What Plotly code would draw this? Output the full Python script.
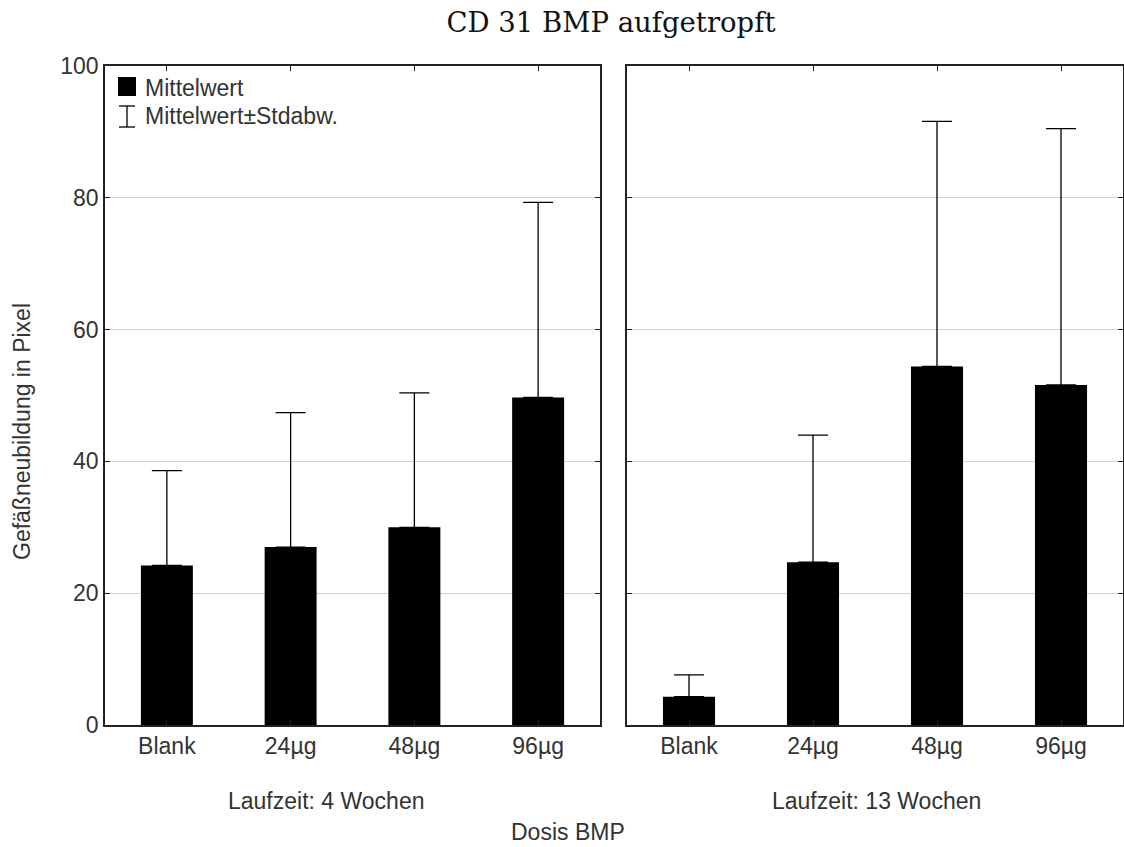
import plotly.graph_objects as go

categories = ["Blank", "24µg", "48µg", "96µg"]
mean_4w = [24.2, 27.0, 30.0, 49.7]
sd_4w = [14.4, 20.4, 20.4, 29.6]
mean_13w = [4.3, 24.7, 54.4, 51.6]
sd_13w = [3.3, 19.3, 37.2, 38.9]
panel_labels = ["Laufzeit: 4 Wochen", "Laufzeit: 13 Wochen"]
y_ticks = [0, 20, 40, 60, 80, 100]

W, H = 1124, 847
FONT = "Liberation Sans, Arial, sans-serif"
TXT = "#333333"
FS = 23

fig = go.Figure()
for i, (m, s) in enumerate([(mean_4w, sd_4w), (mean_13w, sd_13w)]):
    ax = "" if i == 0 else "2"
    fig.add_trace(go.Bar(
        x=categories, y=m, xaxis="x" + ax, yaxis="y" + ax,
        marker=dict(color="black", line=dict(width=0)),
        width=0.42, showlegend=False,
        error_y=dict(type="data", symmetric=False, array=s,
                     arrayminus=[0] * len(s), color="black",
                     thickness=1.3, width=15),
    ))

TOP, BOT = 66, 725
dom_l = [105 / W, 600 / W]
dom_r = [627 / W, 1123 / W]

axis_common = dict(showline=True, linecolor="#222", linewidth=1.5, mirror="ticks",
                   ticks="inside", ticklen=5, tickcolor="#222", automargin=False,
                   tickfont=dict(family=FONT, size=FS, color=TXT))

fig.update_layout(
    width=W, height=H, margin=dict(l=0, r=0, t=TOP, b=H - BOT, autoexpand=False),
    paper_bgcolor="white", plot_bgcolor="white",
    title=dict(text="CD 31 BMP aufgetropft", x=611 / W, xanchor="center",
               y=1 - 22 / H, yanchor="middle", yref="container",
               font=dict(family="DejaVu Serif, Liberation Serif, serif", size=27.5, color="#111")),
    xaxis=dict(domain=dom_l, anchor="y", type="category", range=[-0.5, 3.5],
               showgrid=False, **axis_common),
    xaxis2=dict(domain=dom_r, anchor="y2", type="category", range=[-0.5, 3.5],
                showgrid=False, **axis_common),
    yaxis=dict(domain=[0, 1], anchor="x", range=[0, 100], tickvals=y_ticks,
               showgrid=True, gridcolor="#d0d0d0", gridwidth=1, zeroline=False,
               **axis_common),
    yaxis2=dict(domain=[0, 1], anchor="x2", range=[0, 100], tickvals=y_ticks,
                showticklabels=False, showgrid=True, gridcolor="#d0d0d0", gridwidth=1,
                zeroline=False, **axis_common),
)


def py(pix):
    # convert pixel row to paper fraction (paper spans the plot area)
    return (BOT - pix) / (BOT - TOP)


def px(pix):
    return pix / W


annotations = [
    dict(text=panel_labels[0], x=326 / W, y=py(801), xanchor="center"),
    dict(text=panel_labels[1], x=876 / W, y=py(801), xanchor="center"),
    dict(text="Dosis BMP", x=568 / W, y=py(832), xanchor="center"),
    dict(text="Gefäßneubildung in Pixel", x=22 / W, y=py(432), textangle=-90,
         xanchor="center"),
    dict(text="Mittelwert", x=143 / W, y=py(88), xanchor="left"),
    dict(text="Mittelwert±Stdabw.", x=143 / W, y=py(116), xanchor="left"),
]
for a in annotations:
    a.update(xref="paper", yref="paper", showarrow=False, yanchor="middle",
             font=dict(family=FONT, size=FS, color=TXT))
fig.update_layout(annotations=annotations)

shapes = [
    dict(type="rect", x0=px(118), x1=px(136), y0=py(96), y1=py(77),
         fillcolor="black", line=dict(width=0)),
    dict(type="line", x0=px(127), x1=px(127), y0=py(127), y1=py(106),
         line=dict(color="black", width=1.3)),
    dict(type="line", x0=px(119), x1=px(135), y0=py(106), y1=py(106),
         line=dict(color="black", width=1.3)),
    dict(type="line", x0=px(119), x1=px(135), y0=py(127), y1=py(127),
         line=dict(color="black", width=1.3)),
]
for s in shapes:
    s.update(xref="paper", yref="paper")
fig.update_layout(shapes=shapes)

fig.write_html("out.html")
